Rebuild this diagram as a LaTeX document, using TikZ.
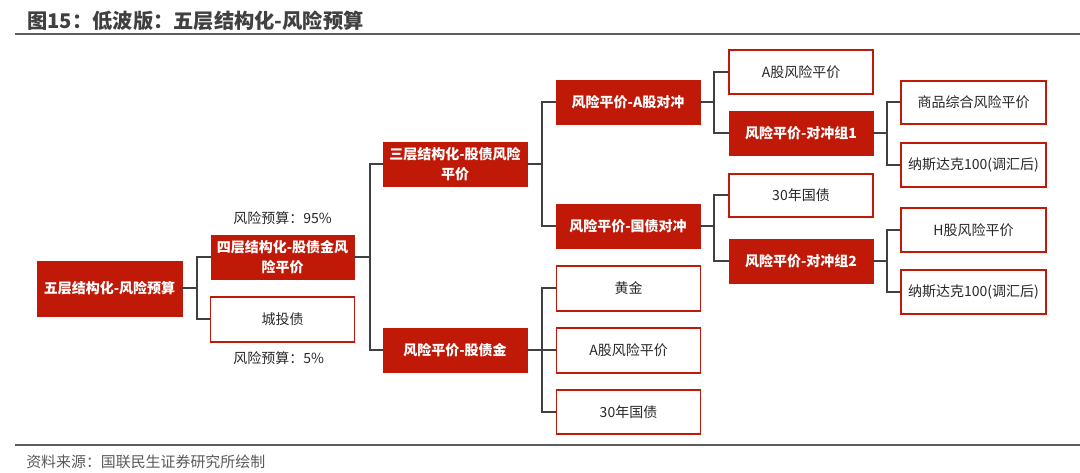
\documentclass[tikz,border=0pt]{standalone}
\usepackage{fontspec}
\setmainfont{Noto Sans CJK SC}
\definecolor{gjred}{RGB}{192,25,8}
\definecolor{lnc}{RGB}{64,64,64}
\definecolor{titlec}{RGB}{64,64,64}
\definecolor{txtc}{RGB}{40,40,40}
\definecolor{footc}{RGB}{90,90,90}
\begin{document}
\begin{tikzpicture}[x=0.75pt,y=-0.75pt,
  base/.style={minimum width=108pt, minimum height=32.5pt, inner sep=0pt, align=center},
  redbox/.style={base, fill=gjred, draw=gjred, line width=0.6pt, text=white, font=\fontsize{10.5pt}{15pt}\selectfont\bfseries},
  whitebox/.style={base, fill=white, draw=gjred, line width=1.2pt, text=txtc, font=\fontsize{10.5pt}{15pt}\selectfont},
  conn/.style={draw=lnc, line width=1.5pt},
  lbl/.style={text=txtc, font=\fontsize{10.5pt}{13pt}\selectfont, inner sep=0pt}]
\useasboundingbox (0,0) rectangle (1080,473);
% title and footer
\node[anchor=west, inner sep=0pt, text=titlec, font=\fontsize{15.2pt}{17pt}\selectfont\bfseries] (title) at (27,21) {图15：低波版：五层结构化-风险预算};
\draw[draw=titlec!85, line width=1.6pt] (15,34) -- (1080,34);
\draw[draw=titlec!85, line width=1.6pt] (15,445) -- (1080,445);
\node[anchor=west, inner sep=0pt, text=footc, font=\fontsize{11.2pt}{13pt}\selectfont] (foot) at (26,462) {资料来源：国联民生证券研究所绘制};
% level 1
\node[redbox, minimum width=108.75pt, minimum height=41.25pt] (b1) at (109.5,288.5) {五层结构化-风险预算};
% level 2
\node[redbox, minimum width=107.25pt] (b2) at (282.5,257.5) {四层结构化-股债金风\\险平价};
\node[whitebox, minimum height=33.75pt] (b3) at (282.5,319.5) {城投债};
\node[lbl, anchor=west] (l95) at (233,218) {风险预算：95\%};
\node[lbl, anchor=west] (l5) at (233,358) {风险预算：5\%};
% level 3
\node[redbox] (b4) at (455,164.5) {三层结构化-股债风险\\平价};
\node[redbox] (b5) at (455,350.5) {风险平价-股债金};
% level 4
\node[redbox] (b6) at (628,102.5) {风险平价-A股对冲};
\node[redbox, minimum height=33pt] (b7) at (628,226) {风险平价-国债对冲};
\node[whitebox, minimum height=33.75pt] (b16) at (628.5,288.5) {黄金};
\node[whitebox, minimum height=33.75pt] (b17) at (628.5,350.5) {A股风险平价};
\node[whitebox, minimum height=33pt] (b18) at (628.5,412) {30年国债};
% level 5
\node[whitebox, minimum height=33pt] (b8) at (801,72) {A股风险平价};
\node[redbox] (b9) at (801,133.5) {风险平价-对冲组1};
\node[whitebox] (b10) at (801,195.5) {30年国债};
\node[redbox, minimum height=33pt] (b11) at (801,261) {风险平价-对冲组2};
% level 6
\node[whitebox, minimum width=108.75pt] (b12) at (973.5,102.5) {商品综合风险平价};
\node[whitebox, minimum width=108.75pt, minimum height=33pt] (b13) at (973.5,165) {纳斯达克100(调汇后)};
\node[whitebox, minimum width=108.75pt, minimum height=33pt] (b14) at (973.5,230) {H股风险平价};
\node[whitebox, minimum width=108.75pt, minimum height=33pt] (b15) at (973.5,292) {纳斯达克100(调汇后)};
% connectors
\draw[conn] (b1.east) -- ++(15,0) |- (b2.west);
\draw[conn] (b1.east) -- ++(15,0) |- (b3.west);
\draw[conn] (b2.east) -- ++(16,0) |- (b4.west);
\draw[conn] (b2.east) -- ++(16,0) |- (b5.west);
\draw[conn] (b4.east) -- ++(15,0) |- (b6.west);
\draw[conn] (b4.east) -- ++(15,0) |- (b7.west);
\draw[conn] (b5.east) -- ++(15,0) |- (b16.west);
\draw[conn] (b5.east) -- (b17.west);
\draw[conn] (b5.east) -- ++(15,0) |- (b18.west);
\draw[conn] (b6.east) -- ++(14,0) |- (b8.west);
\draw[conn] (b6.east) -- ++(14,0) |- (b9.west);
\draw[conn] (b7.east) -- ++(14,0) |- (b10.west);
\draw[conn] (b7.east) -- ++(14,0) |- (b11.west);
\draw[conn] (b9.east) -- ++(14,0) |- (b12.west);
\draw[conn] (b9.east) -- ++(14,0) |- (b13.west);
\draw[conn] (b11.east) -- ++(14,0) |- (b14.west);
\draw[conn] (b11.east) -- ++(14,0) |- (b15.west);
\end{tikzpicture}
\end{document}
